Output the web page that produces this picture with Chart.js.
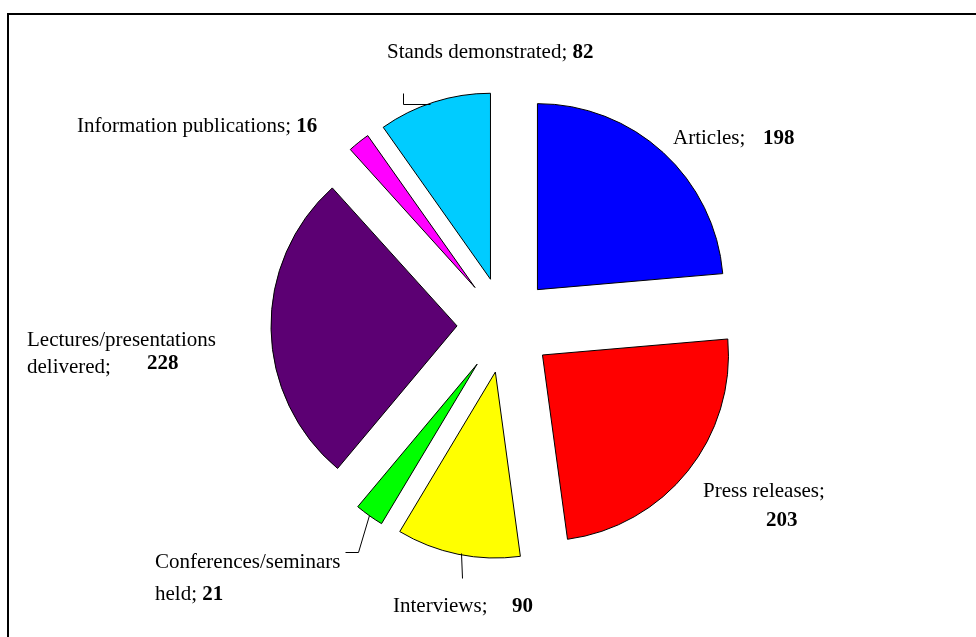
<!DOCTYPE html>
<html>
<head>
<meta charset="utf-8">
<script src="https://cdn.jsdelivr.net/npm/chart.js@4"></script>
<style>
  html, body { margin: 0; padding: 0; background: #ffffff; }
  #c { display: block; }
</style>
</head>
<body>
<canvas id="c" width="976" height="637"></canvas>
<script>
// ---- data ----
const categories = ['Articles', 'Press releases', 'Interviews', 'Conferences/seminars held',
  'Lectures/presentations delivered', 'Information publications', 'Stands demonstrated'];
const values = [198, 203, 90, 21, 228, 16, 82];
const colors = ['#0000FF', '#FF0000', '#FFFF00', '#00FF00', '#5C0073', '#FF00FF', '#00CCFF'];

// ---- layout (positions only) ----
const EXPLODE = 48;
const RADIUS = 186;
const FONT = '"Liberation Serif", "Times New Roman", serif';
const FONT_SIZE = 21;
// per category: name lines (word counts) and value position (or inline)
const labelLayout = [
  { lines: [{ x: 673, y: 144, w: 1 }], value: { x: 763, y: 144 } },
  { lines: [{ x: 703, y: 497, w: 2 }], value: { x: 766, y: 526 } },
  { lines: [{ x: 393, y: 612, w: 1 }], value: { x: 512, y: 612 } },
  { lines: [{ x: 155, y: 568, w: 1 }, { x: 155, y: 600, w: 1 }], value: 'inline' },
  { lines: [{ x: 27, y: 346, w: 1 }, { x: 27, y: 373, w: 1 }], value: { x: 147, y: 369 } },
  { lines: [{ x: 77, y: 132, w: 2 }], value: 'inline' },
  { lines: [{ x: 387, y: 58, w: 2 }], value: 'inline' }
];
const leaders = [
  [[403, 93], [403, 104], [430, 104]],
  [[345, 552], [358, 552], [369, 515]],
  [[462, 578], [461, 553]]
];

const explodePlugin = {
  id: 'explode',
  beforeDatasetsDraw(chart) {
    const meta = chart.getDatasetMeta(0);
    const ca = chart.chartArea;
    const cx = (ca.left + ca.right) / 2, cy = (ca.top + ca.bottom) / 2;
    meta.data.forEach(arc => {
      const mid = (arc.startAngle + arc.endAngle) / 2;
      arc.x = cx + Math.cos(mid) * EXPLODE;
      arc.y = cy + Math.sin(mid) * EXPLODE;
    });
  }
};

const labelPlugin = {
  id: 'labels',
  afterDraw(chart) {
    const ctx = chart.ctx;
    ctx.save();
    // frame
    ctx.strokeStyle = '#000';
    ctx.lineWidth = 2;
    ctx.beginPath();
    ctx.moveTo(8, 637);
    ctx.lineTo(8, 14);
    ctx.lineTo(976, 14);
    ctx.stroke();
    // leaders
    ctx.lineWidth = 1;
    leaders.forEach(pts => {
      ctx.beginPath();
      pts.forEach((p, i) => i ? ctx.lineTo(p[0] + 0.5, p[1] + 0.5) : ctx.moveTo(p[0] + 0.5, p[1] + 0.5));
      ctx.stroke();
    });
    // labels
    ctx.fillStyle = '#000';
    ctx.textBaseline = 'alphabetic';
    ctx.textAlign = 'left';
    const normal = FONT_SIZE + 'px ' + FONT;
    const bold = 'bold ' + FONT_SIZE + 'px ' + FONT;
    labelLayout.forEach((lay, i) => {
      const words = (categories[i] + ';').split(' ');
      let k = 0;
      let last = null;
      lay.lines.forEach(ln => {
        const txt = words.slice(k, k + ln.w).join(' ');
        k += ln.w;
        ctx.font = normal;
        ctx.fillText(txt, ln.x, ln.y);
        last = { x: ln.x + ctx.measureText(txt + ' ').width, y: ln.y };
      });
      ctx.font = bold;
      const v = String(values[i]);
      if (lay.value === 'inline') ctx.fillText(v, last.x, last.y);
      else ctx.fillText(v, lay.value.x, lay.value.y);
    });
    ctx.restore();
  }
};

new Chart(document.getElementById('c'), {
  type: 'pie',
  data: {
    labels: categories,
    datasets: [{
      data: values,
      backgroundColor: colors,
      borderColor: '#000000',
      borderWidth: 1,
      borderJoinStyle: 'miter',
      hoverOffset: 0
    }]
  },
  options: {
    responsive: false,
    devicePixelRatio: 1,
    animation: false,
    events: [],
    radius: RADIUS,
    layout: { padding: { left: 34, right: 0, top: 13, bottom: 0 } },
    plugins: {
      legend: { display: false },
      tooltip: { enabled: false }
    }
  },
  plugins: [explodePlugin, labelPlugin]
});
</script>
</body>
</html>
